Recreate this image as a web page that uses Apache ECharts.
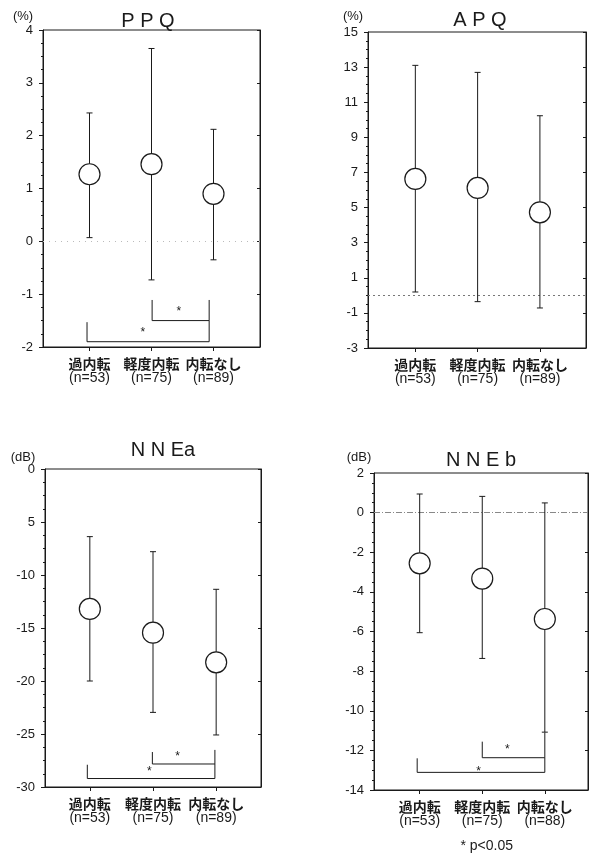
<!DOCTYPE html>
<html>
<head>
<meta charset="utf-8">
<script src="https://cdn.jsdelivr.net/npm/echarts@6/dist/echarts.min.js"></script>
<style>
html,body{margin:0;padding:0;background:#fff;}
#c{width:590px;height:856px;}
</style>
</head>
<body>
<div id="c"></div>
<script>
// ---- data ----
const categories = ['過内転', '軽度内転', '内転なし'];
const nPPQ = [53, 75, 89];
const nAPQ = [53, 75, 89];
const nNNEa = [53, 75, 89];
const nNNEb = [53, 75, 88];

const ppqMean = [1.27, 1.46, 0.90];
const ppqHigh = [2.43, 3.65, 2.12];
const ppqLow  = [0.07, -0.73, -0.35];

const apqMean = [6.63, 6.12, 4.73];
const apqHigh = [13.1, 12.7, 10.23];
const apqLow  = [0.19, -0.36, -0.72];

const nneaMean = [-13.2, -15.44, -18.24];
const nneaHigh = [-6.38, -7.8, -11.35];
const nneaLow  = [-20.0, -22.96, -25.09];

const nnebMean = [-2.56, -3.33, -5.37];
const nnebHigh = [0.94, 0.82, 0.49];
const nnebLow  = [-6.06, -7.36, -11.08];

// significance brackets: [x1, x2, yBar, yTop1, yTop2, starX, starY]
const ppqBrackets  = [[2.01, 2.93, -1.50, -1.11, -1.11, 2.44, -1.33], [0.96, 2.93, -1.90, -1.53, -1.50, 1.86, -1.73]];
const nneaBrackets = [[1.99, 2.98, -27.83, -26.7, -26.5, 2.39, -27.14], [0.96, 2.98, -29.2, -27.9, -27.83, 1.94, -28.56]];
const nnebBrackets = [[2.00, 3.00, -12.37, -11.56, -11.1, 2.40, -11.98], [0.96, 3.00, -13.11, -12.4, -12.37, 1.94, -13.08]];

// tick labels
const ppqTicks  = ['-2', '-1', '0', '1', '2', '3', '4'];
const apqTicks  = ['-3', '-1', '1', '3', '5', '7', '9', '11', '13', '15'];
const nneaTicks = ['-30', '-25', '-20', '-15', '-10', '5', '0'];
const nnebTicks = ['-14', '-12', '-10', '-8', '-6', '-4', '-2', '0', '2'];

const titles = ['P P Q', 'A P Q', 'N N Ea', 'N N E b'];
const units = ['(%)', '(%)', '(dB)', '(dB)'];

// ---- chart ----
const chart = echarts.init(document.getElementById('c'), null, {renderer: 'canvas'});
const INK = '#1a1a1a';
const LAT = 'Liberation Sans, Arial, sans-serif';

const panels = [
  {grid: {left: 43, top: 30, width: 217, height: 317}, xmin: 0.25, xmax: 3.75, ymin: -2, ymax: 4, interval: 1, ticks: ppqTicks,
   mean: ppqMean, high: ppqHigh, low: ppqLow, n: nPPQ, brackets: ppqBrackets, zero: {color: '#bbb', type: [1, 5]}},
  {grid: {left: 368, top: 32, width: 218, height: 316}, xmin: 0.24, xmax: 3.74, ymin: -3, ymax: 15, interval: 2, ticks: apqTicks,
   mean: apqMean, high: apqHigh, low: apqLow, n: nAPQ, brackets: [], zero: {color: '#777', type: [2, 3]}},
  {grid: {left: 45, top: 469, width: 216, height: 318}, xmin: 0.29, xmax: 3.71, ymin: -30, ymax: 0, interval: 5, ticks: nneaTicks,
   mean: nneaMean, high: nneaHigh, low: nneaLow, n: nNNEa, brackets: nneaBrackets, zero: null},
  {grid: {left: 374, top: 473, width: 214, height: 317}, xmin: 0.27, xmax: 3.69, ymin: -14, ymax: 2, interval: 2, ticks: nnebTicks,
   mean: nnebMean, high: nnebHigh, low: nnebLow, n: nNNEb, brackets: nnebBrackets, zero: {color: '#888', type: [6, 2, 1, 2]}}
];

const grids = [], xAxes = [], yAxes = [], series = [];
panels.forEach((p, i) => {
  grids.push(Object.assign({show: true, borderColor: INK, borderWidth: 1, backgroundColor: 'transparent'}, p.grid));
  xAxes.push({
    gridIndex: i, type: 'value', min: p.xmin, max: p.xmax,
    axisLine: {show: true, onZero: false, lineStyle: {color: INK, width: 1}},
    splitLine: {show: false},
    axisTick: {show: true, customValues: [1, 2, 3], length: 4, lineStyle: {color: INK}},
    axisLabel: {
      show: true, customValues: [1, 2, 3], margin: 9,
      formatter: v => '{b|' + categories[Math.round(v) - 1] + '}\n{n|(n=' + p.n[Math.round(v) - 1] + ')}',
      rich: {
        b: {fontFamily: 'Noto Sans CJK JP', fontWeight: 'bold', fontSize: 14, lineHeight: 15, color: INK},
        n: {fontFamily: LAT, fontSize: 14, lineHeight: 15, color: INK}
      }
    }
  });
  yAxes.push({
    gridIndex: i, type: 'value', min: p.ymin, max: p.ymax, interval: p.interval,
    axisLine: {show: true, onZero: false, lineStyle: {color: INK, width: 1}},
    splitLine: {show: false},
    axisTick: {show: true, length: 4, lineStyle: {color: INK}},
    minorTick: {show: true, splitNumber: 4, length: 2, lineStyle: {color: INK}},
    axisLabel: {
      margin: 10, color: INK, fontSize: 13, fontFamily: LAT,
      formatter: v => p.ticks[Math.round((v - p.ymin) / p.interval)]
    }
  });
  yAxes.push({
    gridIndex: i, type: 'value', position: 'right', min: p.ymin, max: p.ymax, interval: p.interval,
    axisLine: {show: true, onZero: false, lineStyle: {color: INK, width: 1}},
    splitLine: {show: false},
    axisTick: {show: true, inside: true, length: 3, lineStyle: {color: INK}},
    axisLabel: {show: false}
  });

  const yIdx = i * 2;
  // error bars
  series.push({
    type: 'custom', xAxisIndex: i, yAxisIndex: yIdx, silent: true, z: 2,
    data: p.mean.map((m, k) => [k + 1, p.low[k], p.high[k]]),
    renderItem: (params, api) => {
      const x = api.value(0);
      const a = api.coord([x, api.value(2)]);
      const b = api.coord([x, api.value(1)]);
      const st = {stroke: INK, lineWidth: 1};
      return {type: 'group', children: [
        {type: 'line', shape: {x1: a[0], y1: a[1], x2: b[0], y2: b[1]}, style: st},
        {type: 'line', shape: {x1: a[0] - 3, y1: a[1], x2: a[0] + 3, y2: a[1]}, style: st},
        {type: 'line', shape: {x1: b[0] - 3, y1: b[1], x2: b[0] + 3, y2: b[1]}, style: st}
      ]};
    }
  });
  // means
  const sc = {
    type: 'scatter', xAxisIndex: i, yAxisIndex: yIdx, silent: true, z: 5,
    symbol: 'circle', symbolSize: 21,
    itemStyle: {color: '#fff', borderColor: INK, borderWidth: 1.2, opacity: 1},
    data: p.mean.map((m, k) => [k + 1, m])
  };
  if (p.zero) {
    sc.markLine = {silent: true, symbol: 'none', label: {show: false}, z: 1,
      lineStyle: {color: p.zero.color, type: p.zero.type, width: 1},
      data: [{yAxis: 0}]};
  }
  series.push(sc);
  // brackets
  if (p.brackets.length) {
    series.push({
      type: 'custom', xAxisIndex: i, yAxisIndex: yIdx, silent: true, z: 3,
      data: p.brackets,
      renderItem: (params, api) => {
        const x1 = api.value(0), x2 = api.value(1), yb = api.value(2), t1 = api.value(3), t2 = api.value(4);
        const pts = [api.coord([x1, t1]), api.coord([x1, yb]), api.coord([x2, yb]), api.coord([x2, t2])];
        const s = api.coord([api.value(5), api.value(6)]);
        return {type: 'group', children: [
          {type: 'polyline', shape: {points: pts}, style: {stroke: INK, lineWidth: 1, fill: null}},
          {type: 'text', x: s[0], y: s[1], style: {text: '*', fontSize: 12, fontFamily: LAT, fill: INK, align: 'center', verticalAlign: 'middle'}}
        ]};
      }
    });
  }
});

const titlePos = [[148, 21], [480, 20], [163, 450], [481, 460]];
const unitPos = [[23, 16], [353, 16], [23, 457], [359, 457]];
const graphics = [];
titles.forEach((t, i) => {
  graphics.push({type: 'text', x: titlePos[i][0], y: titlePos[i][1],
    style: {text: t, fontSize: 20, fontFamily: LAT, fill: INK, align: 'center', verticalAlign: 'middle'}});
  graphics.push({type: 'text', x: unitPos[i][0], y: unitPos[i][1],
    style: {text: units[i], fontSize: 13, fontFamily: LAT, fill: INK, align: 'center', verticalAlign: 'middle'}});
});
graphics.push({type: 'text', x: 513, y: 846,
  style: {text: '* p<0.05', fontSize: 14, fontFamily: LAT, fill: INK, align: 'right', verticalAlign: 'middle'}});

chart.setOption({
  animation: false,
  backgroundColor: '#fff',
  grid: grids,
  xAxis: xAxes,
  yAxis: yAxes,
  series: series,
  graphic: graphics
});
</script>
</body>
</html>
